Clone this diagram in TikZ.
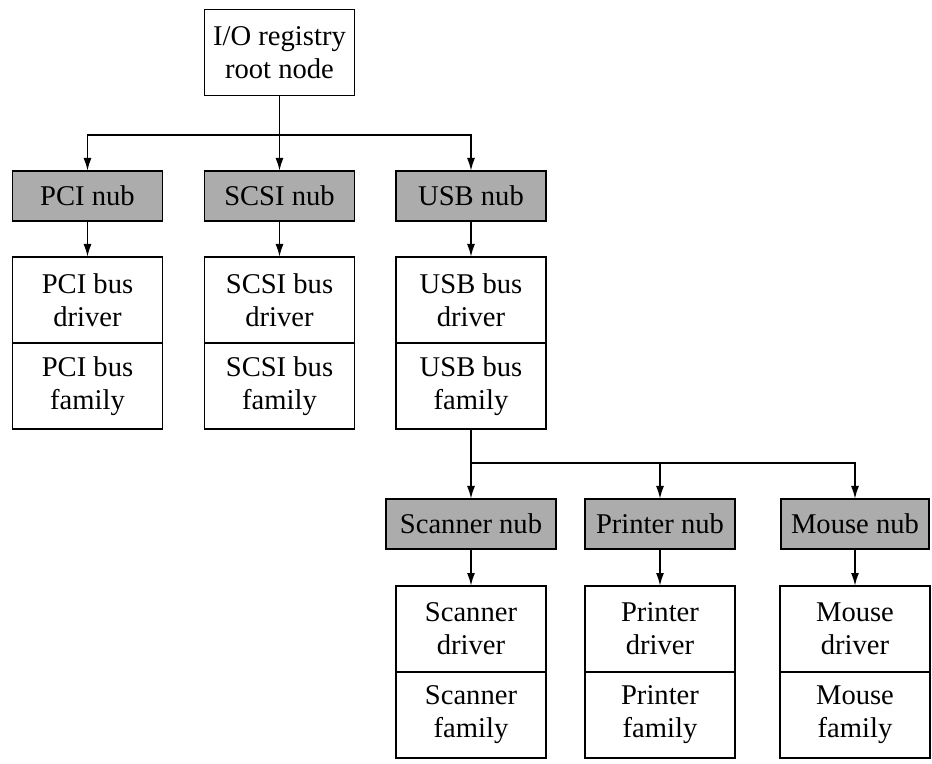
\documentclass[tikz,border=0pt]{standalone}
\usepackage{fontspec}
\setmainfont{Liberation Serif}
\usetikzlibrary{arrows.meta,positioning}

\begin{document}
\begin{tikzpicture}[x=0.5pt,y=-0.5pt,
    box/.style={draw, line width=0.9pt, outer sep=0pt, minimum width=75pt, minimum height=43pt,
        align=center, inner sep=2pt, font=\fontsize{14.3}{16.5}\selectfont},
    nub/.style={box, fill=nubgray, minimum height=25pt},
    link/.style={line width=0.9pt},
    arr/.style={link, -{Latex[length=6.5pt,width=4pt]}}]
    % Colori
    \definecolor{nubgray}{RGB}{172,172,172}

    \useasboundingbox (0,0) rectangle (932,764);

    % Nodo radice
    \node[box] (root) at (279.5,52.5) {I/O registry\\root node};

    % Nub di primo livello
    \node[nub] (pcinub)  at (87.5,196)  {PCI nub};
    \node[nub] (scsinub) at (279.5,196) {SCSI nub};
    \node[nub] (usbnub)  at (471,196)   {USB nub};

    % Driver e famiglie dei bus
    \node[box] (pcidrv)  at (87.5,300)  {PCI bus\\driver};
    \node[box, below=0pt of pcidrv] (pcifam) {PCI bus\\family};
    \node[box] (scsidrv) at (279.5,300) {SCSI bus\\driver};
    \node[box, below=0pt of scsidrv] (scsifam) {SCSI bus\\family};
    \node[box] (usbdrv)  at (471,300)   {USB bus\\driver};
    \node[box, below=0pt of usbdrv] (usbfam) {USB bus\\family};

    % Nub dei dispositivi USB
    \node[nub, minimum width=85pt] (scannub) at (471,524) {Scanner nub};
    \node[nub] (printnub) at (660,524) {Printer nub};
    \node[nub, minimum width=74pt] (mousenub) at (855,524) {Mouse nub};

    % Driver e famiglie dei dispositivi
    \node[box] (scandrv)  at (471,629) {Scanner\\driver};
    \node[box, below=0pt of scandrv] (scanfam) {Scanner\\family};
    \node[box] (printdrv) at (660,629) {Printer\\driver};
    \node[box, below=0pt of printdrv] (printfam) {Printer\\family};
    \node[box] (mousedrv) at (855,629) {Mouse\\driver};
    \node[box, below=0pt of mousedrv] (mousefam) {Mouse\\family};

    % Collegamenti dalla radice
    \coordinate (rootbus) at (279.5,135);
    \draw[link] (root) -- (rootbus);
    \draw[arr] (rootbus) -| (pcinub);
    \draw[arr] (rootbus) -- (scsinub);
    \draw[arr] (rootbus) -| (usbnub);

    \draw[arr] (pcinub) -- (pcidrv);
    \draw[arr] (scsinub) -- (scsidrv);
    \draw[arr] (usbnub) -- (usbdrv);

    % Collegamenti dalla famiglia USB
    \coordinate (usbbus) at (471,463);
    \draw[link] (usbfam) -- (usbbus);
    \draw[arr] (usbbus) -| (scannub);
    \draw[arr] (usbbus) -| (printnub);
    \draw[arr] (usbbus) -| (mousenub);

    \draw[arr] (scannub) -- (scandrv);
    \draw[arr] (printnub) -- (printdrv);
    \draw[arr] (mousenub) -- (mousedrv);
\end{tikzpicture}
\end{document}
